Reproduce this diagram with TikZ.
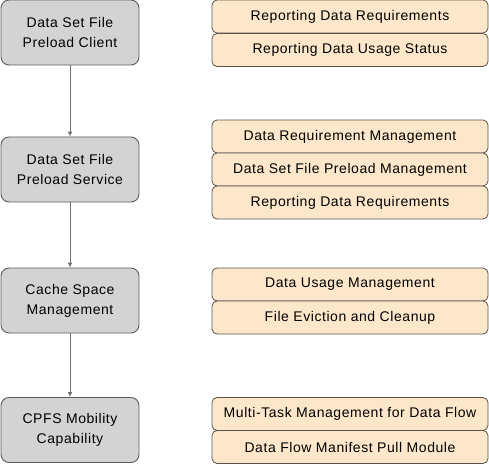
\documentclass[tikz,border=0pt]{standalone}
\usepackage{fontspec}
\setmainfont[LetterSpace=4]{Liberation Sans}
\usetikzlibrary{arrows.meta}
\definecolor{grayFill}{HTML}{D3D3D3}
\definecolor{grayEdge}{HTML}{5C5C5C}
\definecolor{peachFill}{HTML}{FDE7CA}
\definecolor{peachEdge}{HTML}{5A524A}
\definecolor{arrowGray}{HTML}{707070}
\begin{document}
\begin{tikzpicture}[x=1pt,y=-1pt]

            \tikzset{
                stagebox/.style={
                    rectangle, rounded corners=8pt,
                    fill=grayFill, draw=grayEdge, line width=0.9pt,
                    minimum width=138pt, minimum height=65pt,
                    align=center, inner sep=0pt,
                    font=\fontsize{14}{20}\selectfont
                },
                itembox/.style={
                    rectangle, rounded corners=5pt,
                    fill=peachFill, draw=peachEdge, line width=0.8pt,
                    minimum width=276pt, minimum height=33pt,
                    inner sep=0pt,
                    font=\fontsize{14}{16}\selectfont
                },
                flowarrow/.style={
                    draw=arrowGray, line width=1pt,
                    -{Latex[length=5pt,width=5pt]}
                }
            }

            \useasboundingbox (0,0) rectangle (489,465);

            % stages on the left
            \node[stagebox] (client)   at (70,32.5)  {Data Set File\\Preload Client};
            \node[stagebox] (service)  at (70,169.5) {Data Set File\\Preload Service};
            \node[stagebox] (cache)    at (70,300.5) {Cache Space\\Management};
            \node[stagebox] (mobility) at (70,430)   {CPFS Mobility\\Capability};

            % items on the right
            \node[itembox] (reportReq)   at (350,16.5)  {Reporting Data Requirements};
            \node[itembox] (reportUsage) at (350,50)    {Reporting Data Usage Status};

            \node[itembox] (reqMgmt)     at (350,136.5) {Data Requirement Management};
            \node[itembox] (preloadMgmt) at (350,169.5) {Data Set File Preload Management};
            \node[itembox] (reportReqB)  at (350,202.5) {Reporting Data Requirements};

            \node[itembox] (usageMgmt)   at (350,284.5) {Data Usage Management};
            \node[itembox] (eviction)    at (350,317.5) {File Eviction and Cleanup};

            \node[itembox] (multiTask)   at (350,414)   {Multi-Task Management for Data Flow};
            \node[itembox] (manifest)    at (350,447)   {Data Flow Manifest Pull Module};

            % flow between stages
            \draw[flowarrow] (client) -- (service);
            \draw[flowarrow] (service) -- (cache);
            \draw[flowarrow] (cache) -- (mobility);

        \end{tikzpicture}
\end{document}
